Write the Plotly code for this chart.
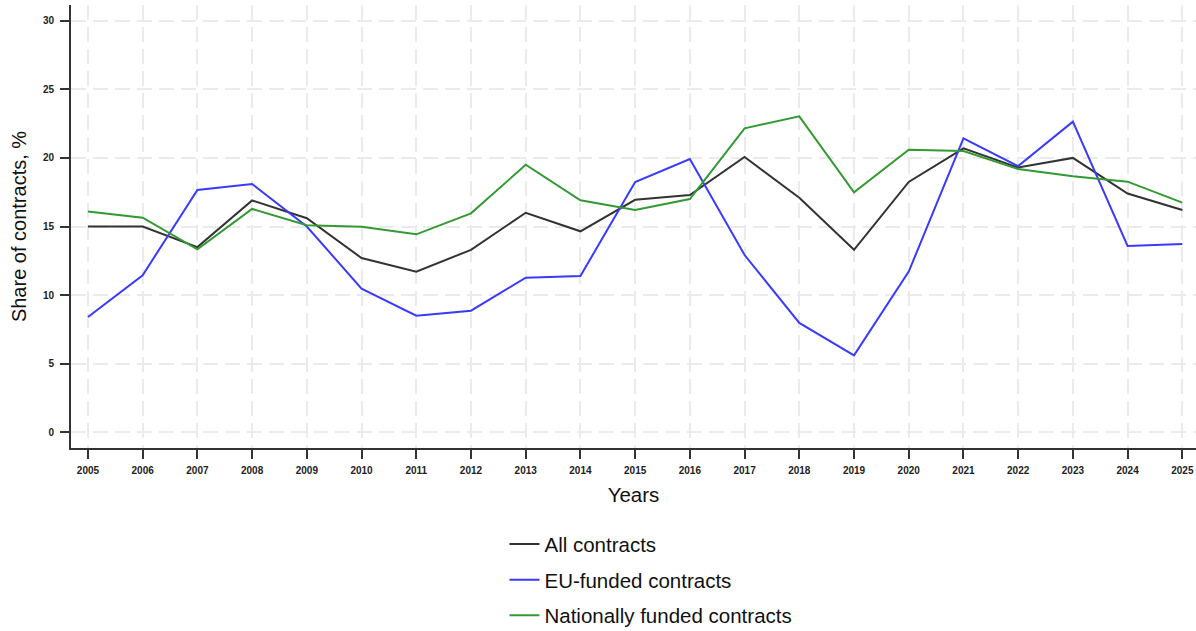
import plotly.graph_objects as go

years = list(range(2005, 2026))
all_contracts = [15.0, 15.0, 13.5, 16.9, 15.6, 12.7, 11.7, 13.3, 16.0, 14.65, 16.95,
                 17.3, 20.07, 17.1, 13.3, 18.25, 20.7, 19.3, 20.0, 17.4, 16.2]
eu_funded = [8.4, 11.45, 17.66, 18.1, 15.0, 10.47, 8.5, 8.86, 11.27, 11.39, 18.24,
             19.92, 12.92, 7.97, 5.61, 11.71, 21.43, 19.4, 22.64, 13.58, 13.72]
national = [16.1, 15.64, 13.34, 16.28, 15.1, 14.99, 14.43, 15.96, 19.5, 16.91, 16.2,
            17.0, 22.16, 23.03, 17.49, 20.6, 20.5, 19.19, 18.66, 18.27, 16.74]
y_ticks = [0, 5, 10, 15, 20, 25, 30]

series = [
    ("All contracts", all_contracts, "#333333"),
    ("EU-funded contracts", eu_funded, "#3a3aff"),
    ("Nationally funded contracts", national, "#339933"),
]

fig = go.Figure()
for i, (name, vals, col) in enumerate(series):
    fig.add_trace(go.Scatter(x=years, y=vals, mode="lines", name=name,
                             legendgroup=f"g{i}",
                             line=dict(color=col, width=2)))

font = "Liberation Sans, Arial, sans-serif"
fig.update_layout(
    width=1196, height=631,
    margin=dict(l=71, r=0, t=5, b=183, autoexpand=False),
    plot_bgcolor="white", paper_bgcolor="white",
    font=dict(family=font, color="#111111"),
    showlegend=True,
    legend=dict(orientation="v", x=0.3853, xanchor="left", y=-0.172, yanchor="top",
                font=dict(size=20.5, family=font, color="#111111"),
                tracegroupgap=6, bgcolor="rgba(0,0,0,0)"),
    xaxis=dict(
        range=[2004.69, 2025.25], tickmode="array", tickvals=years,
        ticktext=[str(y) for y in years], automargin=False,
        tickfont=dict(size=10, color="#222222", family=font, weight="bold"),
        ticks="outside", ticklen=9, tickwidth=2, tickcolor="#333333",
        ticklabelstandoff=3,
        showline=True, linecolor="#333333", linewidth=2,
        showgrid=True, gridcolor="#ebebeb", gridwidth=2, griddash="15px,7px",
        zeroline=False,
        title=dict(text="Years", font=dict(size=20.5, family=font, color="#111111"), standoff=13),
    ),
    yaxis=dict(
        range=[-1.15, 31.15], tickmode="array", tickvals=y_ticks, automargin=False,
        tickfont=dict(size=10, color="#222222", family=font, weight="bold"),
        ticks="outside", ticklen=9, tickwidth=2, tickcolor="#333333",
        ticklabelstandoff=4,
        showline=True, linecolor="#333333", linewidth=2,
        showgrid=True, gridcolor="#ebebeb", gridwidth=2, griddash="15px,7px",
        zeroline=False,
        title=dict(text="Share of contracts, %", font=dict(size=20, family=font, color="#111111"), standoff=11),
    ),
)

fig.write_html("out.html", config={"displayModeBar": False},
               post_script="document.body.style.margin='0';document.body.style.overflow='hidden';")
